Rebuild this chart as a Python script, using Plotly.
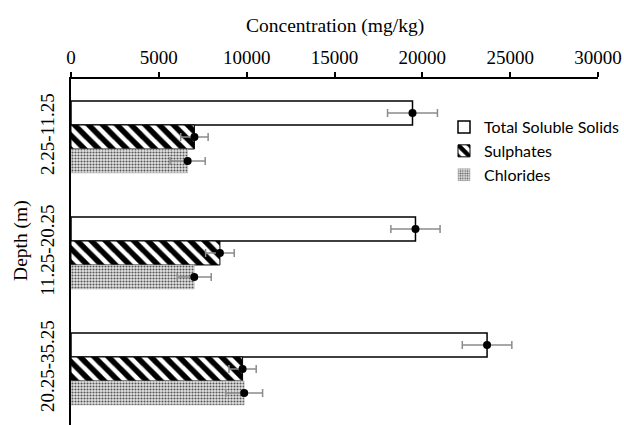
import plotly.graph_objects as go

depths = ["2.25-11.25", "11.25-20.25", "20.25-35.25"]
depth_pos = [0, 1, 2]
series_names = ["Total Soluble Solids", "Sulphates", "Chlorides"]
tss = [19440, 19610, 23685]
tss_err = [1420, 1400, 1410]
sulphates = [7026, 8477, 9768]
sulphates_err = [780, 815, 775]
chlorides = [6640, 7015, 9860]
chlorides_err = [1000, 967, 1047]
x_ticks = [0, 5000, 10000, 15000, 20000, 25000, 30000]

SERIF = "Liberation Serif"

values = [tss, sulphates, chlorides]
errors = [tss_err, sulphates_err, chlorides_err]
bar_styles = [
    dict(color="white", line=dict(color="black", width=1.5)),
    dict(color="white", line=dict(color="black", width=1),
         pattern=dict(shape="\\", fgcolor="black", bgcolor="white", size=10,
                      solidity=0.55, fgopacity=1)),
    dict(color="#dcdcdc", line=dict(color="#aaaaaa", width=0.5),
         pattern=dict(shape=".", fgcolor="#555555", bgcolor="#e4e4e4", size=3,
                      solidity=0.4, fgopacity=1)),
]

fig = go.Figure()
for name, vals, st in zip(series_names, values, bar_styles):
    fig.add_trace(go.Bar(
        y=depth_pos, x=vals, name=name, orientation="h",
        marker=st, offsetgroup=name, showlegend=True,
    ))
for name, vals, errs in zip(series_names, values, errors):
    fig.add_trace(go.Scatter(
        y=depth_pos, x=vals, mode="markers", orientation="h",
        offsetgroup=name, showlegend=False,
        marker=dict(color="black", size=8),
        error_x=dict(type="data", array=errs, visible=True, color="#8c8c8c",
                     thickness=1.5, width=4),
    ))

fig.update_layout(
    width=624, height=425,
    margin=dict(l=71, r=26, t=79, b=0),
    paper_bgcolor="white", plot_bgcolor="white",
    barmode="group", bargap=0.38, bargroupgap=0,
    scattermode="group", scattergap=0.38,
    font=dict(family=SERIF, size=19, color="black"),
    legend=dict(
        x=0.708, y=0.91, xanchor="left", yanchor="top",
        font=dict(family="Lato", size=16, color="black"),
        bgcolor="rgba(0,0,0,0)", tracegroupgap=9, traceorder="normal",
        itemwidth=30,
    ),
    xaxis=dict(
        side="top", range=[0, 30000], tickvals=x_ticks,
        ticktext=[str(v) for v in x_ticks],
        ticks="outside", ticklen=5, tickwidth=1.5, tickcolor="black",
        showline=True, linewidth=2, linecolor="black",
        showgrid=False, zeroline=False,
        tickfont=dict(family=SERIF, size=19),
    ),
    yaxis=dict(
        range=[2.483, -0.5], tickvals=depth_pos, ticktext=depths,
        tickangle=-90, ticks="", showline=True, linewidth=2, linecolor="black",
        showgrid=False, zeroline=False, ticklabelstandoff=7,
        tickfont=dict(family=SERIF, size=19),
    ),
    annotations=[
        dict(text="Concentration (mg/kg)", x=0.5, y=1, xref="paper", yref="paper",
             xanchor="center", yanchor="middle", yshift=53, showarrow=False,
             font=dict(family=SERIF, size=19.5)),
        dict(text="Depth (m)", x=0, y=0.532, xref="paper", yref="paper",
             xanchor="center", yanchor="middle", xshift=-50, textangle=-90,
             showarrow=False, font=dict(family=SERIF, size=19.5)),
    ],
)

fig.write_html("out.html")
